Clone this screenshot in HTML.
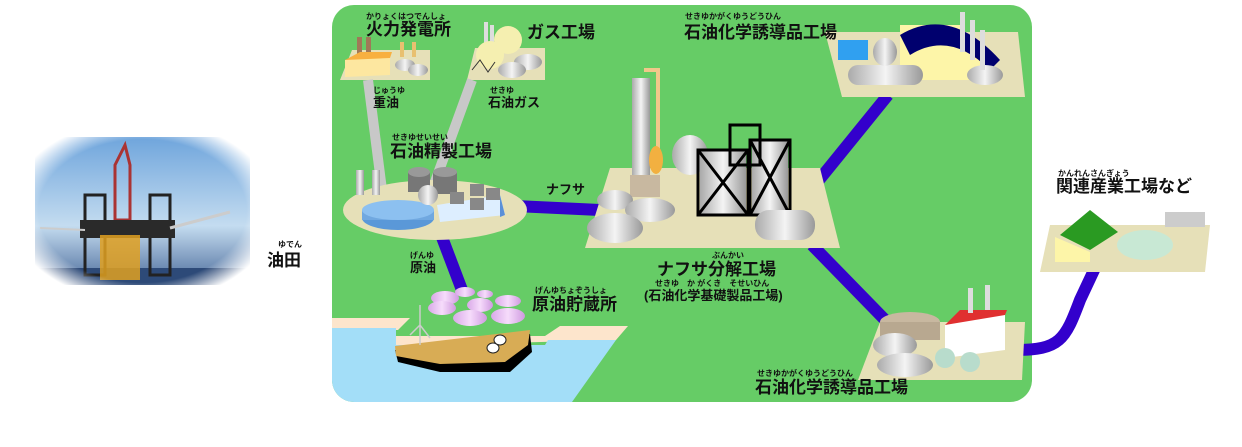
<!DOCTYPE html>
<html><head><meta charset="utf-8"><style>
html,body{margin:0;padding:0;background:#fff;}
svg{display:block;}
text{font-family:"Liberation Sans","Noto Sans CJK JP",sans-serif;fill:#111;}
.t{font-size:17px;font-weight:bold;}
.s{font-size:13px;font-weight:bold;}
.r{font-size:8px;font-weight:bold;}
</style></head><body>
<svg width="1242" height="447" viewBox="0 0 1242 447" xmlns="http://www.w3.org/2000/svg">
<defs>
<linearGradient id="sky" x1="0" y1="0" x2="0" y2="1"><stop offset="0" stop-color="#6fa5dc"/><stop offset="0.6" stop-color="#c4dcf0"/><stop offset="1" stop-color="#4a6a9a"/></linearGradient>
<radialGradient id="fade" cx="0.5" cy="0.5" r="0.62"><stop offset="0.78" stop-color="#fff" stop-opacity="0"/><stop offset="1" stop-color="#fff" stop-opacity="1"/></radialGradient>
<linearGradient id="gry" x1="0" y1="0" x2="1" y2="0"><stop offset="0" stop-color="#aaa"/><stop offset="0.5" stop-color="#f4f4f4"/><stop offset="1" stop-color="#999"/></linearGradient>
<linearGradient id="pink" x1="0" y1="0" x2="1" y2="0"><stop offset="0" stop-color="#d9a8e8"/><stop offset="0.5" stop-color="#f6dcfb"/><stop offset="1" stop-color="#cf9ae0"/></linearGradient>
<clipPath id="pc"><rect x="332" y="5" width="700" height="397" rx="22"/></clipPath>
</defs>

<!-- oil field photo -->
<rect x="35" y="137" width="215" height="148" fill="url(#sky)"/>
<rect x="35" y="268" width="215" height="17" fill="#2d4a78"/>
<g stroke="#222" stroke-width="3" fill="none">
<rect x="85" y="195" width="20" height="80"/><rect x="150" y="195" width="20" height="80"/>
<path d="M115 165 L125 145 L130 165 L130 220 L115 220Z" stroke="#a33"/>
</g>
<rect x="80" y="220" width="95" height="18" fill="#2a2a2a"/>
<rect x="100" y="235" width="40" height="45" fill="#e0a020" opacity="0.85"/>
<path d="M170 228 L230 212" stroke="#ccc" stroke-width="3"/>
<path d="M40 228 L85 230" stroke="#ccc" stroke-width="2"/>
<rect x="35" y="137" width="215" height="148" fill="url(#fade)"/>
<text class="r" x="278" y="247">ゆでん</text>
<text class="t" x="267" y="266">油田</text>

<!-- panel -->
<rect x="332" y="5" width="700" height="397" rx="22" fill="#66cc66"/>
<g clip-path="url(#pc)">
<polygon points="332,318 410,318 398,330 332,330" fill="#fde5cc"/>
<polygon points="392,336 545,336 560,326 628,326 616,340 392,346" fill="#fde5cc"/>
<polygon points="332,328 396,328 396,345 545,345 548,340 616,340 572,402 332,402" fill="#a3def8"/>
</g>
<!-- ship -->
<polygon points="395,350 530,334 532,352 510,372 440,372 398,362" fill="#000"/>
<polygon points="395,346 530,330 528,345 505,362 440,364 396,356" fill="#d8ac55"/>
<path d="M420 305 L420 345 M410 335 L420 325 L430 338" stroke="#ccc" stroke-width="1.5" fill="none"/>
<ellipse cx="493" cy="348" rx="6" ry="5" fill="#fff" stroke="#222"/><ellipse cx="500" cy="340" rx="6" ry="5" fill="#fff" stroke="#222"/>

<!-- platforms -->
<polygon points="352,50 430,50 430,80 340,80" fill="#e6e0b8"/>
<polygon points="475,48 545,48 545,80 467,80" fill="#e6e0b8"/>
<path d="M368 80 L382 190" stroke="#c8c8c8" stroke-width="10"/>
<path d="M472 80 L432 190" stroke="#c8c8c8" stroke-width="10"/>
<g stroke="#3300cc" stroke-width="12" fill="none">
<path d="M515 206 L600 210"/>
<path d="M440 232 L462 290"/>
<path d="M815 185 L888 95"/>
<path d="M812 245 L893 328"/>
<path d="M1015 350 C1060 350 1065 340 1080 300 L1095 268"/>
</g>
<ellipse cx="435" cy="210" rx="92" ry="30" fill="#e6e0b8"/>
<polygon points="610,168 820,168 840,248 585,248" fill="#e6e0b8"/>
<polygon points="825,32 1018,32 1025,97 842,97" fill="#e6e0b8"/>
<polygon points="880,322 1025,322 1022,380 858,380" fill="#e6e0b8"/>
<polygon points="1050,225 1210,225 1205,272 1040,272" fill="#e6e0b8"/>

<!-- power plant -->
<rect x="357" y="37" width="5" height="18" fill="#a07858"/><rect x="366" y="37" width="5" height="18" fill="#a07858"/>
<polygon points="345,60 390,55 390,75 345,77" fill="#fde7a0"/><polygon points="345,60 360,52 392,52 390,58" fill="#f8b040"/>
<ellipse cx="405" cy="65" rx="10" ry="6" fill="url(#gry)"/><ellipse cx="418" cy="70" rx="10" ry="6" fill="url(#gry)"/>
<rect x="400" y="42" width="4" height="15" fill="#e8c070"/><rect x="412" y="42" width="4" height="15" fill="#e8c070"/>
<!-- gas -->
<rect x="484" y="22" width="4" height="25" fill="#ddd"/><rect x="490" y="25" width="4" height="25" fill="#ddd"/>
<circle cx="490" cy="55" r="14" fill="#f5efb0"/><circle cx="508" cy="40" r="14" fill="#f5efb0"/>
<ellipse cx="528" cy="62" rx="14" ry="8" fill="url(#gry)"/><ellipse cx="512" cy="70" rx="14" ry="8" fill="url(#gry)"/>
<path d="M472 70 L480 60 L488 72 L495 62" stroke="#333" fill="none"/>
<!-- refinery -->
<ellipse cx="398" cy="218" rx="36" ry="12" fill="#5a98d8"/><rect x="362" y="210" width="72" height="10" fill="#70a8e0"/><ellipse cx="398" cy="210" rx="36" ry="10" fill="#8cc0f0"/>
<rect x="356" y="170" width="8" height="25" fill="url(#gry)"/><rect x="372" y="170" width="8" height="25" fill="url(#gry)"/>
<rect x="408" y="172" width="22" height="20" fill="#777"/><ellipse cx="419" cy="172" rx="11" ry="5" fill="#999"/>
<rect x="433" y="172" width="24" height="22" fill="#777"/><ellipse cx="445" cy="172" rx="12" ry="5" fill="#999"/>
<ellipse cx="428" cy="195" rx="10" ry="10" fill="url(#gry)"/>
<polygon points="437,205 500,195 505,215 440,222" fill="#ddeeff"/><polygon points="500,195 505,215 500,217" fill="#5a90d8"/>
<rect x="450" y="192" width="14" height="12" fill="#888"/><rect x="470" y="184" width="14" height="12" fill="#888"/><rect x="470" y="198" width="14" height="12" fill="#888"/><rect x="486" y="188" width="14" height="12" fill="#888"/>
<!-- storage -->
<g fill="url(#pink)">
<ellipse cx="445" cy="298" rx="14" ry="7"/><ellipse cx="465" cy="292" rx="10" ry="5"/><ellipse cx="485" cy="294" rx="8" ry="4"/>
<ellipse cx="442" cy="308" rx="14" ry="7"/><ellipse cx="480" cy="305" rx="13" ry="7"/><ellipse cx="508" cy="301" rx="13" ry="6"/>
<ellipse cx="470" cy="318" rx="17" ry="8"/><ellipse cx="508" cy="316" rx="17" ry="8"/>
</g>

<!-- naphtha cracker -->
<rect x="632" y="78" width="18" height="110" fill="url(#gry)"/>
<path d="M644 70 L658 70 L658 150" stroke="#f0c88a" stroke-width="4" fill="none"/>
<ellipse cx="656" cy="160" rx="7" ry="14" fill="#f2b040"/>
<ellipse cx="690" cy="155" rx="18" ry="20" fill="url(#gry)"/>
<rect x="700" y="150" width="46" height="65" fill="url(#gry)"/><rect x="752" y="140" width="36" height="75" fill="url(#gry)"/>
<g stroke="#000" stroke-width="3" fill="none">
<rect x="698" y="150" width="50" height="65"/><rect x="750" y="140" width="40" height="75"/><rect x="730" y="125" width="30" height="40"/>
<path d="M698 150 L748 215 M748 150 L698 215 M750 140 L790 215 M790 140 L750 215"/>
</g>
<rect x="630" y="175" width="30" height="22" fill="#c8b8a0"/>
<ellipse cx="615" cy="200" rx="18" ry="10" fill="url(#gry)"/><ellipse cx="650" cy="210" rx="25" ry="12" fill="url(#gry)"/><ellipse cx="615" cy="228" rx="28" ry="15" fill="url(#gry)"/>
<rect x="755" y="210" width="60" height="30" rx="14" fill="url(#gry)"/>
<!-- top right factory -->
<rect x="838" y="40" width="30" height="20" fill="#30a0f0"/>
<polygon points="900,25 960,25 1000,80 900,80" fill="#fdf5a8"/>
<path d="M900 35 Q950 5 1000 60 L990 70 Q950 30 910 55Z" fill="#00006e"/>
<rect x="848" y="65" width="75" height="20" rx="10" fill="url(#gry)"/>
<ellipse cx="885" cy="52" rx="12" ry="14" fill="url(#gry)"/>
<ellipse cx="985" cy="75" rx="18" ry="10" fill="url(#gry)"/>
<rect x="960" y="12" width="5" height="40" fill="#ddd"/><rect x="970" y="20" width="5" height="40" fill="#ddd"/><rect x="980" y="30" width="5" height="40" fill="#ddd"/>
<!-- bottom right factory -->
<ellipse cx="910" cy="322" rx="30" ry="10" fill="#c8b8a0"/><rect x="880" y="322" width="60" height="18" fill="#b8a890"/>
<polygon points="945,325 1005,310 1005,350 945,358" fill="#fff"/><polygon points="945,325 960,310 1007,310 1005,315" fill="#e03030"/>
<rect x="968" y="288" width="5" height="25" fill="#ddd"/><rect x="985" y="285" width="5" height="25" fill="#ddd"/>
<ellipse cx="895" cy="345" rx="22" ry="12" fill="url(#gry)"/><ellipse cx="905" cy="365" rx="28" ry="12" fill="url(#gry)"/>
<ellipse cx="945" cy="358" rx="10" ry="10" fill="#b8dccc"/><ellipse cx="970" cy="362" rx="10" ry="10" fill="#b8dccc"/>
<!-- related industry -->
<polygon points="1060,235 1090,210 1118,232 1090,250" fill="#2a9a22"/>
<polygon points="1055,237 1090,252 1090,262 1055,262" fill="#fdf5a8"/>
<ellipse cx="1145" cy="245" rx="28" ry="15" fill="#c8e8d4"/>
<rect x="1165" y="212" width="40" height="15" fill="#ccc"/>

<!-- labels -->
<text class="r" x="366" y="19">かりょくはつでんしょ</text>
<text class="t" x="366" y="35">火力発電所</text>
<text class="t" x="527" y="38">ガス工場</text>
<text class="r" x="373" y="93">じゅうゆ</text>
<text class="s" x="373" y="107">重油</text>
<text class="r" x="490" y="93">せきゆ</text>
<text class="s" x="488" y="107">石油ガス</text>
<text class="r" x="392" y="140">せきゆせいせい</text>
<text class="t" x="390" y="157">石油精製工場</text>
<text class="s" x="546" y="194">ナフサ</text>
<text class="r" x="410" y="258">げんゆ</text>
<text class="s" x="410" y="272">原油</text>
<text class="r" x="535" y="293">げんゆちょぞうしょ</text>
<text class="t" x="532" y="310">原油貯蔵所</text>
<text class="r" x="685" y="19">せきゆかがくゆうどうひん</text>
<text class="t" x="684" y="38">石油化学誘導品工場</text>
<text class="r" x="712" y="258">ぶんかい</text>
<text class="t" x="657" y="275">ナフサ分解工場</text>
<text class="r" x="655" y="286">せきゆ　か がくき　そせいひん</text>
<text class="s" x="644" y="300">(石油化学基礎製品工場)</text>
<text class="r" x="757" y="376">せきゆかがくゆうどうひん</text>
<text class="t" x="755" y="393">石油化学誘導品工場</text>
<text class="r" x="1058" y="176">かんれんさんぎょう</text>
<text class="t" x="1056" y="192">関連産業工場など</text>
</svg>
</body></html>
